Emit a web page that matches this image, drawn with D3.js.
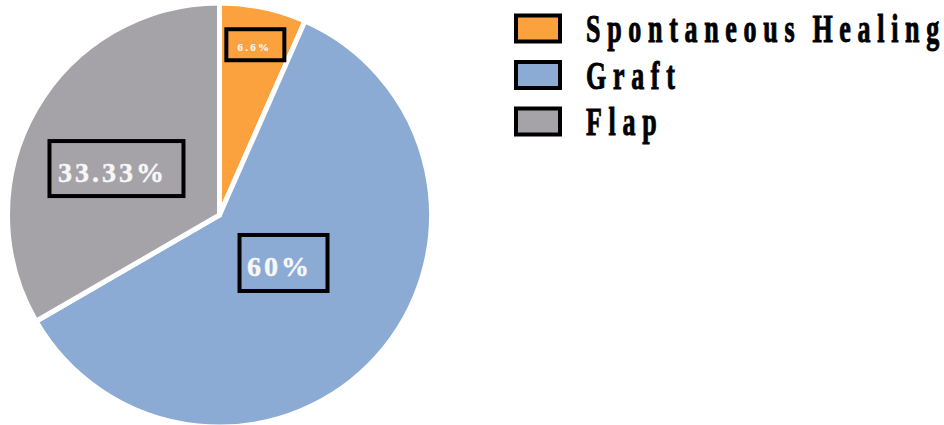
<!DOCTYPE html>
<html>
<head>
<meta charset="utf-8">
<script src="https://cdn.jsdelivr.net/npm/d3@7"></script>
<style>
  html, body { margin: 0; padding: 0; background: #fff; }
  svg { display: block; }
  text { font-family: "Liberation Serif", "Times New Roman", serif; font-weight: bold; }
</style>
</head>
<body>
<svg id="chart" width="944" height="425"></svg>
<script>
// ---- data ----
const categories = ["Spontaneous Healing", "Graft", "Flap"];
const values = [6.6, 60, 33.33];
const labels = ["6.6%", "60%", "33.33%"];
const colors = ["#FBA23F", "#8BABD4", "#A5A3A7"];

// ---- layout (not data) ----
const cx = 219.5, cy = 215, R = 212;
const labelLayout = [
  { r: 174, da: 0,    w: 58, h: 31, fs: 11, ls: 2.3, dx: -1, dy: 6.5 },
  { r: 80,  da: -5,   w: 88, h: 56, fs: 28, ls: 3,   dx: -4, dy: 13 },
  { r: 113, da: -5.7, w: 134, h: 55, fs: 28, ls: 3,  dx: -4, dy: 13.5 }
];

const svg = d3.select("#chart");
const g = svg.append("g").attr("transform", `translate(${cx},${cy})`);

const pie = d3.pie().sort(null).value(d => d);
const arcs = pie(values);
const arc = d3.arc().innerRadius(0).outerRadius(R);

g.selectAll("path.slice")
  .data(arcs)
  .join("path")
  .attr("class", "slice")
  .attr("d", arc)
  .attr("fill", (d, i) => colors[i])
  .attr("stroke", "#fff")
  .attr("stroke-width", 5)
  .attr("stroke-linejoin", "miter");

// labels with boxes
const lab = g.selectAll("g.lab")
  .data(arcs)
  .join("g")
  .attr("class", "lab")
  .attr("transform", (d, i) => {
    const L = labelLayout[i];
    const a = (d.startAngle + d.endAngle) / 2 + L.da * Math.PI / 180;
    const x = L.r * Math.sin(a), y = -L.r * Math.cos(a);
    return `translate(${x},${y})`;
  });

lab.append("rect")
  .attr("x", (d, i) => -labelLayout[i].w / 2)
  .attr("y", (d, i) => -labelLayout[i].h / 2)
  .attr("width", (d, i) => labelLayout[i].w)
  .attr("height", (d, i) => labelLayout[i].h)
  .attr("fill", "none")
  .attr("stroke", "#000")
  .attr("stroke-width", 4);

lab.append("text")
  .attr("x", (d, i) => labelLayout[i].dx)
  .attr("y", (d, i) => labelLayout[i].dy)
  .attr("text-anchor", "middle")
  .attr("fill", "#f7f7f7")
  .attr("stroke", "#f7f7f7")
  .attr("stroke-width", (d, i) => i === 0 ? 0.2 : 0.4)
  .style("font-size", (d, i) => labelLayout[i].fs + "px")
  .style("letter-spacing", (d, i) => labelLayout[i].ls + "px")
  .text((d, i) => labels[i]);

// legend
const legend = svg.append("g").attr("class", "legend");
const ly = d3.scalePoint().domain(categories).range([28.5, 121.5]);

const item = legend.selectAll("g.item")
  .data(categories)
  .join("g")
  .attr("class", "item")
  .attr("transform", d => `translate(0,${ly(d)})`);

item.append("rect")
  .attr("x", 516)
  .attr("y", -13)
  .attr("width", 44)
  .attr("height", 26)
  .attr("fill", (d, i) => colors[i])
  .attr("stroke", "#000")
  .attr("stroke-width", 4);

const lt = item.append("text")
  .attr("transform", "translate(586,13.5) scale(0.65,1)")
  .attr("x", 0)
  .attr("y", 0)
  .attr("fill", "#000")
  .attr("stroke", "#000")
  .attr("stroke-width", 1)
  .style("font-size", "40px")
  .style("word-spacing", "-3px");
lt.append("tspan")
  .style("letter-spacing", "10.3px")
  .text(d => d.slice(0, -1));
lt.append("tspan")
  .style("letter-spacing", "0px")
  .text(d => d.slice(-1));
</script>
</body>
</html>
